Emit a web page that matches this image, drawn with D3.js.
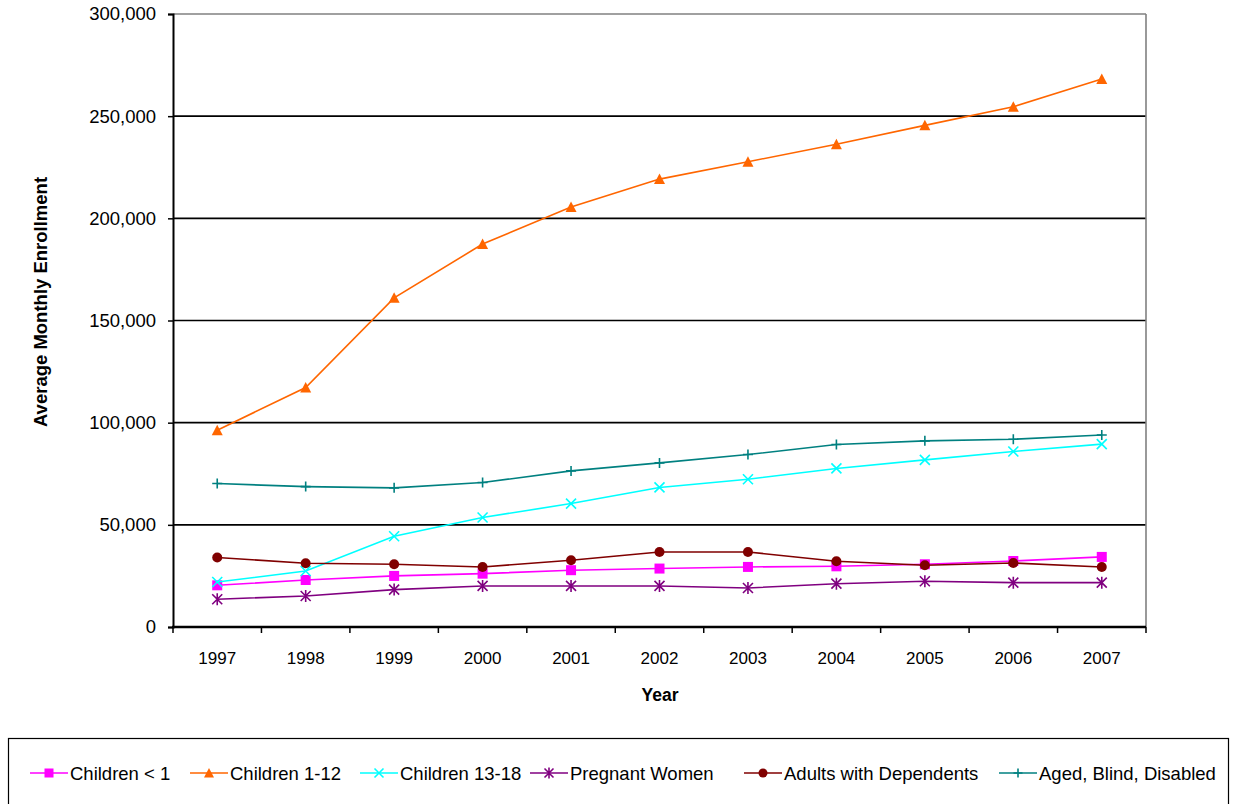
<!DOCTYPE html>
<html>
<head>
<meta charset="utf-8">
<script src="https://cdn.jsdelivr.net/npm/d3@7"></script>
<style>
  html, body { margin: 0; padding: 0; background: #fff; }
  svg text { font-family: "Liberation Sans", Arial, sans-serif; fill: #000; }
</style>
</head>
<body>
<svg id="chart" width="1233" height="804"></svg>
<script>
// Years on the category axis
const years = ["1997","1998","1999","2000","2001","2002","2003","2004","2005","2006","2007"];

// Average monthly enrollment by eligibility group
const childrenUnder1   = [20400, 23000, 25000, 26100, 27800, 28600, 29400, 29700, 30700, 32300, 34300];
const children1to12    = [96300, 117200, 161100, 187400, 205600, 219200, 227700, 236300, 245500, 254600, 268200];
const children13to18   = [22000, 27400, 44400, 53600, 60400, 68300, 72300, 77600, 81800, 85900, 89500];
const pregnantWomen    = [13600, 15200, 18300, 20100, 20100, 20100, 19100, 21200, 22400, 21700, 21700];
const adultsDependents = [34000, 31200, 30700, 29400, 32700, 36700, 36700, 32200, 30200, 31300, 29400];
const agedBlindDisabled= [70200, 68700, 68100, 70700, 76400, 80300, 84400, 89300, 91100, 91900, 94000];

const yTicks = [0, 50000, 100000, 150000, 200000, 250000, 300000];

const series = [
  { name: "Children < 1",           values: childrenUnder1,    color: "#FF00FF", marker: "square" },
  { name: "Children 1-12",          values: children1to12,     color: "#FF6600", marker: "triangle" },
  { name: "Children 13-18",         values: children13to18,    color: "#00FFFF", marker: "x" },
  { name: "Pregnant Women",         values: pregnantWomen,     color: "#800080", marker: "star" },
  { name: "Adults with Dependents", values: adultsDependents,  color: "#800000", marker: "circle" },
  { name: "Aged, Blind, Disabled",  values: agedBlindDisabled, color: "#008080", marker: "plus" }
];

const svg = d3.select("#chart");
const plot = { left: 173, right: 1146, top: 14, bottom: 627 };

const x = d3.scaleBand().domain(years).range([plot.left, plot.right]).paddingInner(0).paddingOuter(0);
const xc = d => x(d) + x.bandwidth() / 2;
const y = d3.scaleLinear().domain([0, 300000]).range([plot.bottom, plot.top]);

// Horizontal gridlines
svg.append("g").selectAll("line")
  .data(yTicks.filter(v => v > 0 && v < 300000))
  .join("line")
  .attr("x1", plot.left).attr("x2", plot.right)
  .attr("y1", d => y(d)).attr("y2", d => y(d))
  .attr("stroke", "#000").attr("stroke-width", 1.6);

// Plot frame: top and right edges in gray
svg.append("line")
  .attr("x1", plot.left).attr("x2", plot.right)
  .attr("y1", y(300000)).attr("y2", y(300000))
  .attr("stroke", "#808080").attr("stroke-width", 1.6);
svg.append("line")
  .attr("x1", plot.right).attr("x2", plot.right)
  .attr("y1", plot.top).attr("y2", plot.bottom)
  .attr("stroke", "#808080").attr("stroke-width", 1.6);

// Y axis
const yAxis = svg.append("g")
  .attr("transform", `translate(${plot.left},0)`)
  .call(d3.axisLeft(y).tickValues(yTicks).tickFormat(d3.format(",")).tickSize(5).tickPadding(12));
yAxis.select(".domain").attr("stroke", "#000").attr("stroke-width", 2);
yAxis.selectAll(".tick line").attr("stroke", "#000").attr("stroke-width", 1.5);
yAxis.selectAll(".tick text").attr("font-size", 18.5).attr("font-family", "Liberation Sans, Arial, sans-serif").attr("fill", "#000");

// X axis: labels centred in each year band, tick marks on band boundaries
const xAxis = svg.append("g")
  .attr("transform", `translate(0,${plot.bottom})`)
  .call(d3.axisBottom(x).tickSize(0).tickPadding(25));
xAxis.select(".domain").remove();
xAxis.selectAll(".tick text").attr("font-size", 17).attr("font-family", "Liberation Sans, Arial, sans-serif").attr("fill", "#000");

svg.append("line")
  .attr("x1", plot.left - 1).attr("x2", plot.right)
  .attr("y1", plot.bottom).attr("y2", plot.bottom)
  .attr("stroke", "#000").attr("stroke-width", 2.5);

const boundaries = years.map(d => x(d)).concat([x(years[years.length - 1]) + x.bandwidth()]);
svg.append("g").selectAll("line")
  .data(boundaries)
  .join("line")
  .attr("x1", d => d).attr("x2", d => d)
  .attr("y1", plot.bottom).attr("y2", plot.bottom + 6)
  .attr("stroke", "#000").attr("stroke-width", 1.5);

// Axis titles
svg.append("text")
  .attr("x", 660).attr("y", 701)
  .attr("text-anchor", "middle")
  .attr("font-size", 17.5).attr("font-weight", "bold")
  .text("Year");
svg.append("text")
  .attr("transform", "translate(47,302) rotate(-90)")
  .attr("text-anchor", "middle")
  .attr("font-size", 18.5).attr("font-weight", "bold")
  .text("Average Monthly Enrollment");

// Marker drawing
function drawMarker(g, type, color, size) {
  const s = size / 2;
  switch (type) {
    case "square":
      g.append("rect").attr("x", -s).attr("y", -s).attr("width", size).attr("height", size).attr("fill", color);
      break;
    case "triangle":
      g.append("path").attr("d", `M0,${-s - 0.5}L${s + 0.5},${s}L${-s - 0.5},${s}Z`).attr("fill", color);
      break;
    case "circle":
      g.append("circle").attr("r", s).attr("fill", color);
      break;
    case "x":
      g.append("path").attr("d", `M${-s},${-s}L${s},${s}M${-s},${s}L${s},${-s}`)
        .attr("stroke", color).attr("stroke-width", 1.6).attr("fill", "none");
      break;
    case "star":
      g.append("path").attr("d", `M${-s},${-s}L${s},${s}M${-s},${s}L${s},${-s}M0,${-s - 1}L0,${s + 1}`)
        .attr("stroke", color).attr("stroke-width", 1.6).attr("fill", "none");
      break;
    case "plus":
      g.append("path").attr("d", `M${-s},0L${s},0M0,${-s}L0,${s}`)
        .attr("stroke", color).attr("stroke-width", 1.6).attr("fill", "none");
      break;
  }
}

// Series lines and markers
const line = d3.line().x((d, i) => xc(years[i])).y(d => y(d));
series.forEach(s => {
  const g = svg.append("g");
  g.append("path")
    .attr("d", line(s.values))
    .attr("fill", "none")
    .attr("stroke", s.color)
    .attr("stroke-width", 1.6);
  s.values.forEach((v, i) => {
    const m = g.append("g").attr("transform", `translate(${xc(years[i])},${y(v)})`);
    drawMarker(m, s.marker, s.color, 10);
  });
});

// Legend
svg.append("rect")
  .attr("x", 8.5).attr("y", 738.5).attr("width", 1220).attr("height", 70)
  .attr("fill", "#fff").attr("stroke", "#000").attr("stroke-width", 1.2);

const legendX = [30, 190, 360, 530, 744, 999];
const legendY = 773;
series.forEach((s, i) => {
  const g = svg.append("g").attr("transform", `translate(${legendX[i]},${legendY})`);
  g.append("line").attr("x1", 0).attr("x2", 38).attr("y1", 0).attr("y2", 0)
    .attr("stroke", s.color).attr("stroke-width", 1.6);
  const m = g.append("g").attr("transform", "translate(19,0)");
  drawMarker(m, s.marker, s.color, 9);
  g.append("text").attr("x", 40).attr("y", 6.5).attr("font-size", 18.5).text(s.name);
});
</script>
</body>
</html>
